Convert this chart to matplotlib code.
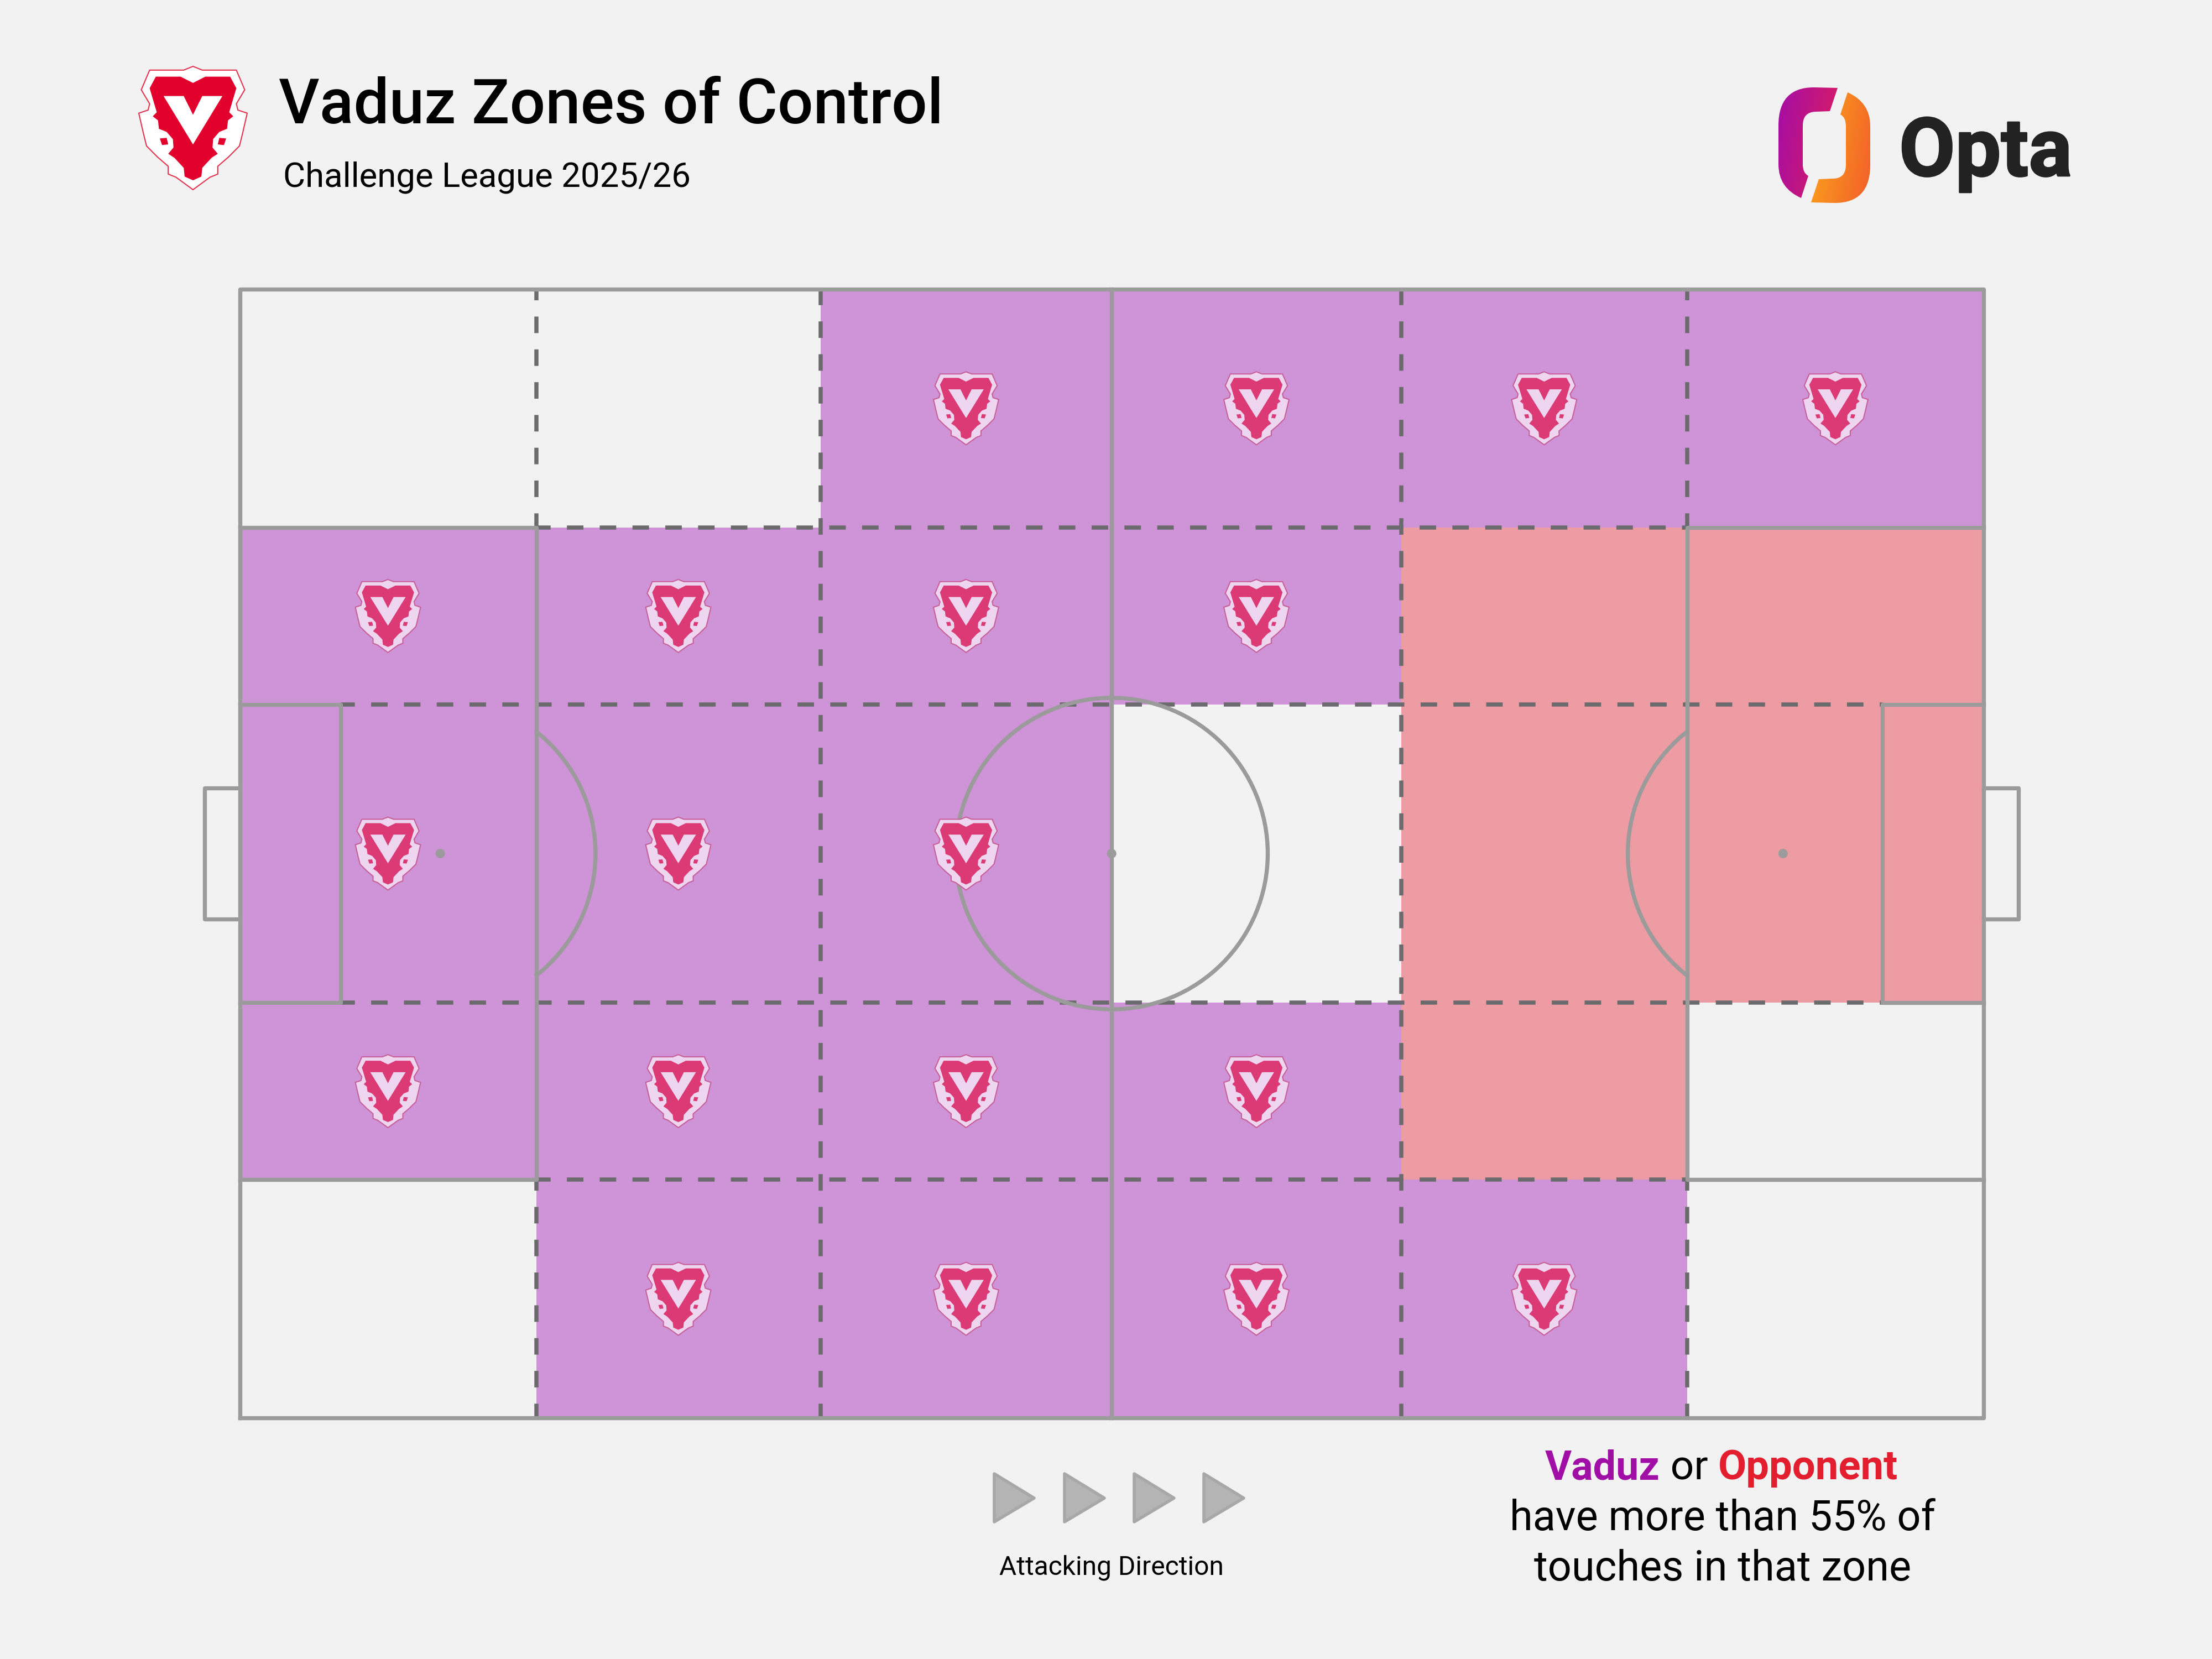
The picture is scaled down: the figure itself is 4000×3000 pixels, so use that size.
import matplotlib
matplotlib.use("Agg")
import matplotlib.pyplot as plt
import numpy as np
from matplotlib.patches import Rectangle, Polygon, Ellipse, PathPatch
from matplotlib.path import Path
import matplotlib.patheffects as pe

plt.rcParams["font.family"] = ["Roboto", "DejaVu Sans"]
plt.rcParams["lines.scale_dashes"] = False

BG = "#f2f2f2"
PURPLE = "#cf93d7"
RED = "#ee9ca3"
LINE = "#9b9b9b"
DASH = "#6b6a6c"
LW = 5.3

# zone edges, opta style 0-100
x_edges = [0, 17, 33.3, 50, 66.6, 83, 100]
y_edges = [100, 78.9, 63.2, 36.8, 21.1, 0]

# who controls each zone, top row first
zones = [
    ["-", "-", "V", "V", "V", "V"],
    ["V", "V", "V", "V", "O", "O"],
    ["V", "V", "V", "-", "O", "O"],
    ["V", "V", "V", "V", "O", "-"],
    ["-", "V", "V", "V", "V", "-"],
]

title = "Vaduz Zones of Control"
subtitle = "Challenge League 2025/26"
legend_lines = ["have more than 55% of", "touches in that zone"]

crest_outer = [(245, 85), (215, 97), (105, 97), (78, 160), (105, 205), (100, 225), (70, 235),
               (85, 300), (95, 340), (130, 375), (165, 405), (165, 430), (190, 440), (245, 480)]
crest_red = [(245, 138), (205, 118), (125, 118), (105, 155), (128, 232), (115, 245), (132, 258),
             (135, 285), (160, 295), (180, 318), (182, 345), (165, 365), (185, 378), (215, 410),
             (218, 438), (245, 450)]
crest_curl = [(138, 316), (160, 314), (165, 335), (145, 337)]
crest_v = [(150, 180), (215, 180), (245, 240), (275, 180), (340, 180), (245, 335)]


def mirror(half):
    pts = list(half)
    return pts + [(490 - a, b) for a, b in reversed(pts[:-1])][:-1]


def crest(ax, cx, cy, w, h, yflip, pale, fill, edge):
    def place(pts):
        pts = np.array(pts, dtype=float)
        xs = cx + (pts[:, 0] - 245) / 350 * w
        ys = cy + yflip * (pts[:, 1] - 282.5) / 395 * h
        return np.column_stack([xs, ys])
    ax.add_patch(Polygon(place(mirror(crest_outer)), fc=pale, ec=edge, lw=1.5, zorder=6))
    ax.add_patch(Polygon(place(mirror(crest_red)), fc=fill, ec="none", zorder=7))
    ax.add_patch(Polygon(place(crest_curl), fc=fill, ec="none", zorder=7))
    ax.add_patch(Polygon(place([(490 - a, b) for a, b in crest_curl]), fc=fill, ec="none", zorder=7))
    ax.add_patch(Polygon(place(crest_v), fc=pale, ec="none", zorder=8))


fig = plt.figure(figsize=(40, 30), dpi=100, facecolor=BG)

# pitch axes
ax = fig.add_axes([433.5 / 4000, 1 - 2564 / 3000, 3153.5 / 4000, 2041 / 3000])
ax.set_xlim(0, 100)
ax.set_ylim(0, 100)
ax.axis("off")

for r, row in enumerate(zones):
    for c, who in enumerate(row):
        x0, x1 = x_edges[c], x_edges[c + 1]
        y1, y0 = y_edges[r], y_edges[r + 1]
        if who == "-":
            continue
        col = PURPLE if who == "V" else RED
        ax.add_patch(Rectangle((x0, y0), x1 - x0, y1 - y0, fc=col, ec="none", zorder=1))
        if who == "V":
            crest(ax, (x0 + x1) / 2, (y0 + y1) / 2, 3.74, 6.47, -1, "#efd6f0", "#dc3a75", "#c8609a")

dash_style = dict(color=DASH, lw=5.4, ls=(3, (21.5, 21.2)), dash_capstyle="butt", zorder=2, clip_on=False)
solid = dict(color=LINE, lw=LW, solid_capstyle="projecting", zorder=3, clip_on=False)

# dashed zone lines
for xv in [33.3, 66.6]:
    ax.plot([xv, xv], [0, 100], **dash_style)
for xv in [17, 83]:
    ax.plot([xv, xv], [78.9, 100], **dash_style)
    ax.plot([xv, xv], [0, 21.1], **dash_style)
for yv in [78.9, 21.1]:
    ax.plot([17, 83], [yv, yv], **dash_style)
for yv in [63.2, 36.8]:
    ax.plot([5.8, 94.2], [yv, yv], **dash_style)

# pitch markings
ax.plot([0, 100, 100, 0, 0], [0, 0, 100, 100, 0], **solid)
ax.plot([50, 50], [0, 100], **solid)
ax.plot([0, 17, 17, 0], [78.9, 78.9, 21.1, 21.1], **solid)
ax.plot([100, 83, 83, 100], [78.9, 78.9, 21.1, 21.1], **solid)
ax.plot([0, 5.8, 5.8, 0], [63.2, 63.2, 36.8, 36.8], **solid)
ax.plot([100, 94.2, 94.2, 100], [63.2, 63.2, 36.8, 36.8], **solid)
ax.plot([0, -2, -2, 0], [55.8, 55.8, 44.2, 44.2], **solid)
ax.plot([100, 102, 102, 100], [55.8, 55.8, 44.2, 44.2], **solid)

ax.add_patch(Ellipse((50, 50), 17.9, 27.6, fc="none", ec=LINE, lw=LW, zorder=3))
t = np.radians(np.linspace(-51.6, 51.6, 80))
ax.plot(11.5 + 8.9 * np.cos(t), 50 + 13.75 * np.sin(t), color=LINE, lw=LW, zorder=3)
ax.plot(88.5 - 8.9 * np.cos(t), 50 + 13.75 * np.sin(t), color=LINE, lw=LW, zorder=3)
for xv in [11.5, 50, 88.5]:
    ax.add_patch(Ellipse((xv, 50), 0.54, 0.83, fc=LINE, ec="none", zorder=4))

# header and footer in pixel coordinates
px = fig.add_axes([0, 0, 1, 1], facecolor="none")
px.set_xlim(0, 4000)
px.set_ylim(3000, 0)
px.axis("off")

crest(px, 349, 231.5, 196, 223, 1, "#ffffff", "#e2002c", "#e2334f")

px.text(504, 223, title, fontsize=82, fontweight="medium", color="black", va="baseline", ha="left")
px.text(512, 337, subtitle, fontsize=44.5, color="black", va="baseline", ha="left")

# opta mark, right piece is the left one turned round the centre
left_verts = np.array(
    [(3323, 159), (3309, 201), (3284, 202), (3260, 202), (3260, 227), (3260, 297), (3260, 313), (3270, 318),
     (3257, 358), (3216, 340), (3216, 297), (3216, 227), (3216, 158), (3280, 158), (3323, 159)], dtype=float)
piece_codes = [Path.MOVETO, Path.LINETO, Path.LINETO, Path.CURVE3, Path.CURVE3, Path.LINETO, Path.CURVE3, Path.CURVE3,
               Path.LINETO, Path.CURVE3, Path.CURVE3, Path.LINETO, Path.CURVE3, Path.CURVE3, Path.CLOSEPOLY]
left_piece = Path(left_verts, piece_codes)
right_piece = Path(np.array([6598, 525]) - left_verts, piece_codes)
gx, gy = np.meshgrid(np.linspace(0, 1, 200), np.linspace(0, 1, 200))
grad = (gx + 0.35 * gy) / 1.35
for piece, c0, c1, box in [(left_piece, (0.64, 0.05, 0.65), (0.88, 0.12, 0.36), (3216, 3323, 367, 158)),
                           (right_piece, (0.99, 0.67, 0.11), (0.95, 0.37, 0.16), (3275, 3382, 367, 158))]:
    img = np.dstack([c0[i] + (c1[i] - c0[i]) * grad for i in range(3)])
    im = px.imshow(img, extent=box, aspect="auto", zorder=5)
    im.set_clip_path(PathPatch(piece, transform=px.transData))
px.set_xlim(0, 4000)
px.set_ylim(3000, 0)
px.text(3434, 318, "Opta", fontsize=106, fontweight="bold", color="#222222", va="baseline", ha="left",
        path_effects=[pe.withStroke(linewidth=2, foreground="#222222")])

# attacking direction arrows
for ax0 in [1798, 1925, 2051, 2177]:
    px.add_patch(Polygon([(ax0, 2665), (ax0 + 72, 2709), (ax0, 2752)], fc="#b4b4b4", ec="#a8a8a8", lw=4,
                         joinstyle="round"))
px.text(2010, 2848, "Attacking Direction", fontsize=34.5, color="black", ha="center", va="baseline")

# legend, first line has three colours so measure the parts
fig.canvas.draw()
rend = fig.canvas.get_renderer()
parts = [("Vaduz", "#a00ea6", "bold", 53), (" or ", "black", "normal", 54), ("Opponent", "#e31f2f", "bold", 53.5)]
cx = 2794
for txt, col, wt, fs in parts:
    tt = px.text(cx, 2675, txt.replace(" ", "\u00a0"), fontsize=fs, color=col, fontweight=wt, ha="left", va="baseline")
    cx += tt.get_window_extent(rend).width
px.text(3115, 2767, legend_lines[0], fontsize=54.5, color="black", ha="center", va="baseline")
px.text(3115, 2858, legend_lines[1], fontsize=54.5, color="black", ha="center", va="baseline")

fig.savefig("out.png", dpi=100, facecolor=BG)
